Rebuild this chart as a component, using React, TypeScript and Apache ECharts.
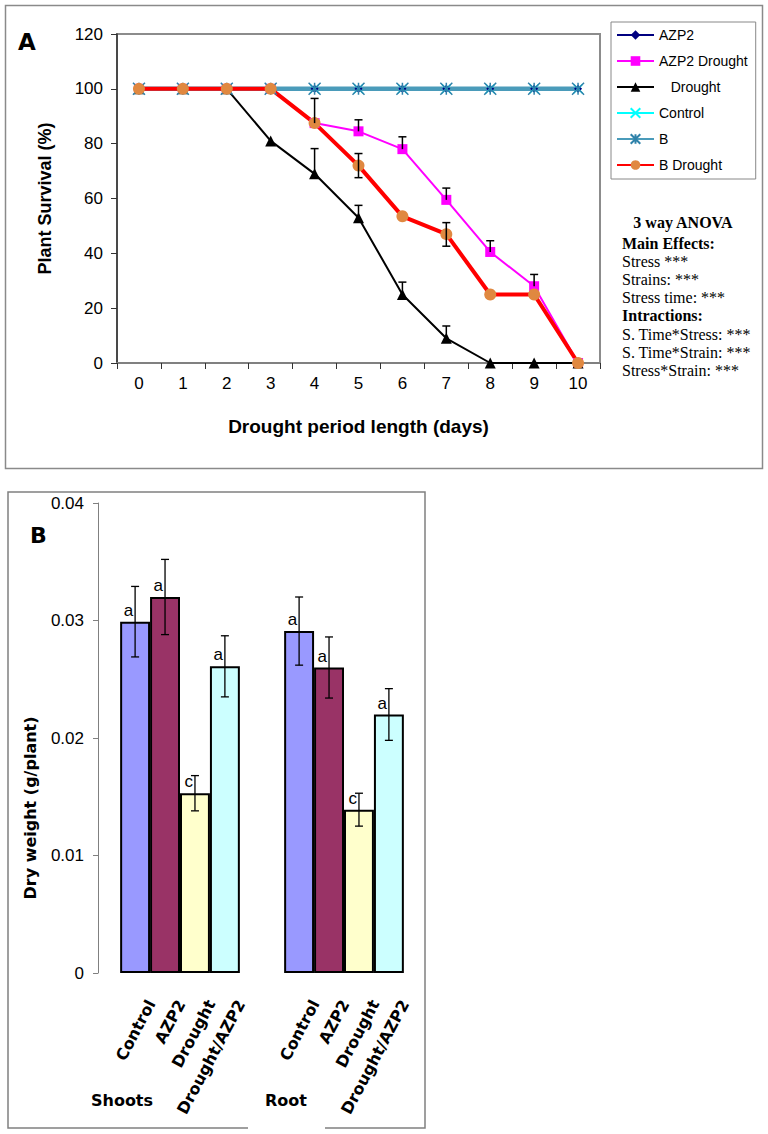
import React, { useEffect, useRef } from "react";
import * as echarts from "echarts";

// ---------- Panel A data ----------
const days = ["0", "1", "2", "3", "4", "5", "6", "7", "8", "9", "10"];
const azp2 = [100, 100, 100, 100, 100, 100, 100, 100, 100, 100, 100];
const azp2Drought = [100, 100, 100, 100, 87.5, 84.5, 78, 59.5, 40.5, 28, 0];
const drought = [100, 100, 100, 81, 69, 53, 25, 9, 0, 0, 0];
const control = [100, 100, 100, 100, 100, 100, 100, 100, 100, 100, 100];
const bStrain = [100, 100, 100, 100, 100, 100, 100, 100, 100, 100, 100];
const bDrought = [100, 100, 100, 100, 87.5, 72, 53.5, 47, 25, 25, 0];

const azp2DroughtErrUp = [0, 0, 0, 0, 0, 4.2, 4.5, 4.3, 4.1, 4.3, 0];
const azp2DroughtErrDown = [0, 0, 0, 0, 0, 0, 0, 0, 0, 0, 0];
const droughtErrUp = [0, 0, 0, 0, 9.2, 4.5, 4.5, 4.5, 0, 0, 0];
const droughtErrDown = [0, 0, 0, 0, 0, 0, 0, 0, 0, 0, 0];
const bDroughtErrUp = [0, 0, 0, 0, 9, 4.4, 0, 4.2, 0, 0, 0];
const bDroughtErrDown = [0, 0, 0, 0, 0, 4.4, 0, 4.4, 0, 0, 0];

const anovaTitle = "3 way ANOVA";
const anovaLines = [
  "Main Effects:",
  "Stress ***",
  "Strains: ***",
  "Stress time: ***",
  "Intractions:",
  "S. Time*Stress: ***",
  "S. Time*Strain: ***",
  "Stress*Strain: ***",
];
const anovaBold = [true, false, false, false, true, false, false, false];

// ---------- Panel B data ----------
const tissues = ["Shoots", "Root"];
const treatments = ["Control", "AZP2", "Drought", "Drought/AZP2"];
const dryControl = [0.0299, 0.0291];
const dryAzp2 = [0.032, 0.026];
const dryDrought = [0.0153, 0.0139];
const dryDroughtAzp2 = [0.0261, 0.022];
const errControl = [0.003, 0.0029];
const errAzp2 = [0.0032, 0.0026];
const errDrought = [0.0015, 0.0014];
const errDroughtAzp2 = [0.0026, 0.0022];
const lettersControl = ["a", "a"];
const lettersAzp2 = ["a", "a"];
const lettersDrought = ["c", "c"];
const lettersDroughtAzp2 = ["a", "a"];

const SANS = '"Liberation Sans", Arial, sans-serif';
const VERD = '"DejaVu Sans", Verdana, sans-serif';
const SERIF = '"Liberation Serif", "Times New Roman", serif';

const X_PATH = "path://M0,0L10,10M10,0L0,10";
const AST_PATH = "path://M0,0L10,10M10,0L0,10M5,0L5,10";

function optionA(): any {
  const errGroups = [
    { vals: azp2Drought, up: azp2DroughtErrUp, down: azp2DroughtErrDown },
    { vals: drought, up: droughtErrUp, down: droughtErrDown },
    { vals: bDrought, up: bDroughtErrUp, down: bDroughtErrDown },
  ];
  const errData: number[][] = [];
  errGroups.forEach((g) =>
    g.vals.forEach((v, i) => {
      if (g.up[i] > 0 || g.down[i] > 0) errData.push([i, v, g.up[i], g.down[i]]);
    })
  );

  const graphics: any[] = [
    {
      type: "rect",
      shape: { x: 5.5, y: 5.5, width: 757, height: 463 },
      style: { fill: "none", stroke: "#8a8a8a", lineWidth: 1.5 },
      z: -1,
    },
    {
      type: "text",
      x: 18,
      y: 42,
      style: { text: "A", font: `900 23px ${VERD}`, fill: "#000", verticalAlign: "middle", textVerticalAlign: "middle" },
    },
    {
      type: "text",
      x: 683,
      y: 222,
      style: {
        text: anovaTitle,
        font: `bold 16px ${SERIF}`,
        fill: "#000",
        align: "center",
        textAlign: "center",
        verticalAlign: "middle",
        textVerticalAlign: "middle",
      },
    },
  ];
  anovaLines.forEach((t, i) => {
    graphics.push({
      type: "text",
      x: 622,
      y: 243 + i * 18.2,
      style: {
        text: t,
        font: `${anovaBold[i] ? "bold " : ""}16px ${SERIF}`,
        fill: "#000",
        verticalAlign: "middle",
        textVerticalAlign: "middle",
      },
    });
  });

  const mk = (name: string, data: number[], extra: any) => ({
    name,
    type: "line",
    data,
    showAllSymbol: true,
    ...extra,
  });

  return {
    animation: false,
    graphic: graphics,
    grid: {
      left: 117,
      top: 34,
      width: 483,
      height: 329,
      show: true,
      borderColor: "#8c8c8c",
      borderWidth: 2,
      backgroundColor: "transparent",
    },
    legend: {
      orient: "vertical",
      left: 611,
      top: 22,
      itemWidth: 37,
      itemHeight: 12,
      itemGap: 12,
      padding: [6, 8, 7, 5],
      borderColor: "#888",
      borderWidth: 1,
      backgroundColor: "#fff",
      selectedMode: false,
      textStyle: { fontFamily: SANS, fontSize: 14, color: "#000" },
      data: ["AZP2", "AZP2 Drought", "Drought", "Control", "B", "B Drought"],
      formatter: (n: string) => (n === "Drought" ? "   Drought" : n),
    },
    xAxis: {
      type: "category",
      data: days,
      boundaryGap: true,
      axisLine: { lineStyle: { color: "#808080", width: 2 } },
      axisTick: { show: true, length: 6, alignWithLabel: false, lineStyle: { color: "#333" } },
      axisLabel: { fontFamily: SANS, fontSize: 17, color: "#000", margin: 12 },
      name: "Drought period length (days)",
      nameLocation: "middle",
      nameGap: 54,
      nameTextStyle: { fontFamily: SANS, fontSize: 19, fontWeight: "bold", color: "#000" },
    },
    yAxis: {
      type: "value",
      min: 0,
      max: 120,
      interval: 20,
      splitLine: { show: false },
      axisLine: { show: true, lineStyle: { color: "#333", width: 1.5 } },
      axisTick: { show: true, length: 6, lineStyle: { color: "#333" } },
      axisLabel: { fontFamily: SANS, fontSize: 17, color: "#000", margin: 14 },
      name: "Plant Survival (%)",
      nameLocation: "middle",
      nameGap: 63,
      nameRotate: 90,
      nameTextStyle: { fontFamily: SANS, fontSize: 18, fontWeight: "bold", color: "#000" },
    },
    series: [
      mk("AZP2", azp2, {
        symbol: "diamond",
        symbolSize: 8,
        lineStyle: { color: "#000080", width: 2 },
        itemStyle: { color: "#000080" },
      }),
      mk("AZP2 Drought", azp2Drought, {
        symbol: "rect",
        symbolSize: 10,
        lineStyle: { color: "#FF00FF", width: 2 },
        itemStyle: { color: "#FF00FF" },
      }),
      mk("Drought", drought, {
        symbol: "triangle",
        symbolSize: 11,
        lineStyle: { color: "#000000", width: 2 },
        itemStyle: { color: "#000000" },
      }),
      mk("Control", control, {
        symbol: X_PATH,
        symbolSize: 9,
        lineStyle: { color: "#00FFFF", width: 2 },
        itemStyle: { color: "#00FFFF", borderColor: "#00FFFF", borderWidth: 1.5 },
      }),
      mk("B", bStrain, {
        symbol: AST_PATH,
        symbolSize: 12,
        lineStyle: { color: "#4A9BBA", width: 4.5 },
        itemStyle: { color: "#2F82AA", borderColor: "#2F82AA", borderWidth: 1.5 },
      }),
      mk("B Drought", bDrought, {
        symbol: "circle",
        symbolSize: 12,
        lineStyle: { color: "#FF0000", width: 4 },
        itemStyle: { color: "#E08840" },
      }),
      {
        type: "custom",
        name: "err",
        data: errData,
        encode: { x: 0, y: 1 },
        z: 5,
        renderItem: (params: any, api: any) => {
          const xi = api.value(0);
          const v = api.value(1);
          const up = api.value(2);
          const dn = api.value(3);
          const top = api.coord([xi, v + up]);
          const bot = api.coord([xi, v - dn]);
          const cx = top[0];
          const st = { stroke: "#000", lineWidth: 1.5 };
          const ch: any[] = [
            { type: "line", shape: { x1: cx, y1: bot[1], x2: cx, y2: top[1] }, style: st },
          ];
          if (up > 0) ch.push({ type: "line", shape: { x1: cx - 4, y1: top[1], x2: cx + 4, y2: top[1] }, style: st });
          if (dn > 0) ch.push({ type: "line", shape: { x1: cx - 4, y1: bot[1], x2: cx + 4, y2: bot[1] }, style: st });
          return { type: "group", children: ch };
        },
      },
    ],
  };
}

function optionB(): any {
  const vals = [dryControl, dryAzp2, dryDrought, dryDroughtAzp2];
  const errs = [errControl, errAzp2, errDrought, errDroughtAzp2];
  const letters = [lettersControl, lettersAzp2, lettersDrought, lettersDroughtAzp2];
  const colors = ["#9999FF", "#993366", "#FFFFCC", "#CCFFFF"];
  const errData: number[][] = [];
  vals.forEach((arr, k) => arr.forEach((v, c) => errData.push([c, v, errs[k][c], k])));

  const bars = treatments.map((t, k) => ({
    name: t,
    type: "bar",
    data: vals[k],
    barGap: "0%",
    barCategoryGap: "27%",
    itemStyle: { color: colors[k], borderColor: "#000", borderWidth: 2 },
  }));

  return {
    animation: false,
    graphic: [
      {
        type: "polyline",
        shape: { points: [[248, 648], [8, 648], [8, 12], [425, 12], [425, 648], [325, 648]] },
        style: { fill: "none", stroke: "#808080", lineWidth: 1.5 },
      },
      {
        type: "text",
        x: 30,
        y: 55,
        style: { text: "B", font: `900 22px ${VERD}`, fill: "#000", verticalAlign: "middle", textVerticalAlign: "middle" },
      },
      {
        type: "text",
        x: 30,
        y: 328,
        rotation: Math.PI / 2,
        style: {
          text: "Dry weight (g/plant)",
          font: `bold 16px ${VERD}`,
          fill: "#000",
          align: "center",
          textAlign: "center",
          verticalAlign: "middle",
          textVerticalAlign: "middle",
        },
      },
    ],
    grid: { left: 98, top: 23, width: 328, height: 470 },
    xAxis: {
      type: "category",
      data: tissues,
      axisLine: { show: false },
      axisTick: { show: false },
      axisLabel: {
        fontFamily: VERD,
        fontSize: 16,
        fontWeight: "bold",
        color: "#000",
        margin: 119,
        padding: [0, 116, 0, 0],
      },
    },
    yAxis: {
      type: "value",
      min: 0,
      max: 0.04,
      interval: 0.01,
      splitLine: { show: false },
      axisLine: { show: true, lineStyle: { color: "#808080", width: 1 } },
      axisTick: { show: true, length: 5, lineStyle: { color: "#808080" } },
      axisLabel: { fontFamily: SANS, fontSize: 17, color: "#000", margin: 14 },
    },
    series: [
      ...bars,
      {
        type: "custom",
        name: "errB",
        data: errData,
        encode: { x: 0, y: 1 },
        z: 5,
        clip: false,
        renderItem: (params: any, api: any) => {
          const c = api.value(0);
          const v = api.value(1);
          const e = api.value(2);
          const k = api.value(3);
          const center = api.coord([c, 0]);
          const bandW = api.size([1, 0])[0];
          const barW = (bandW * 0.73) / 4;
          const x = center[0] + (k - 1.5) * barW;
          const top = api.coord([c, v + e])[1];
          const bot = api.coord([c, v - e])[1];
          const barTop = api.coord([c, v])[1];
          const y0 = center[1];
          const st = { stroke: "#000", lineWidth: 1.3 };
          return {
            type: "group",
            children: [
              { type: "line", shape: { x1: x, y1: bot, x2: x, y2: top }, style: st },
              { type: "line", shape: { x1: x - 4, y1: top, x2: x + 4, y2: top }, style: st },
              { type: "line", shape: { x1: x - 4, y1: bot, x2: x + 4, y2: bot }, style: st },
              {
                type: "text",
                x: x - 2,
                y: barTop - 3,
                style: {
                  text: letters[k][c],
                  font: `17px ${SANS}`,
                  fill: "#000",
                  align: "right",
                  textAlign: "right",
                  verticalAlign: "bottom",
                  textVerticalAlign: "bottom",
                },
              },
              {
                type: "text",
                x: x + 16,
                y: y0 + 28,
                rotation: (62 * Math.PI) / 180,
                style: {
                  text: treatments[k],
                  font: `bold 16px ${VERD}`,
                  fill: "#000",
                  align: "right",
                  textAlign: "right",
                  verticalAlign: "middle",
                  textVerticalAlign: "middle",
                },
              },
            ],
          };
        },
      },
    ],
  };
}

export default function App() {
  const refA = useRef<HTMLDivElement>(null);
  const refB = useRef<HTMLDivElement>(null);
  useEffect(() => {
    const a = echarts.init(refA.current!, undefined, { renderer: "svg" });
    a.setOption(optionA());
    const b = echarts.init(refB.current!, undefined, { renderer: "svg" });
    b.setOption(optionB());
    return () => {
      a.dispose();
      b.dispose();
    };
  }, []);
  return (
    <div style={{ position: "absolute", left: 0, top: 0, width: 768, height: 1134, background: "#fff" }}>
      <div ref={refA} style={{ position: "absolute", left: 0, top: 0, width: 768, height: 480 }} />
      <div ref={refB} style={{ position: "absolute", left: 0, top: 480, width: 768, height: 654 }} />
    </div>
  );
}
